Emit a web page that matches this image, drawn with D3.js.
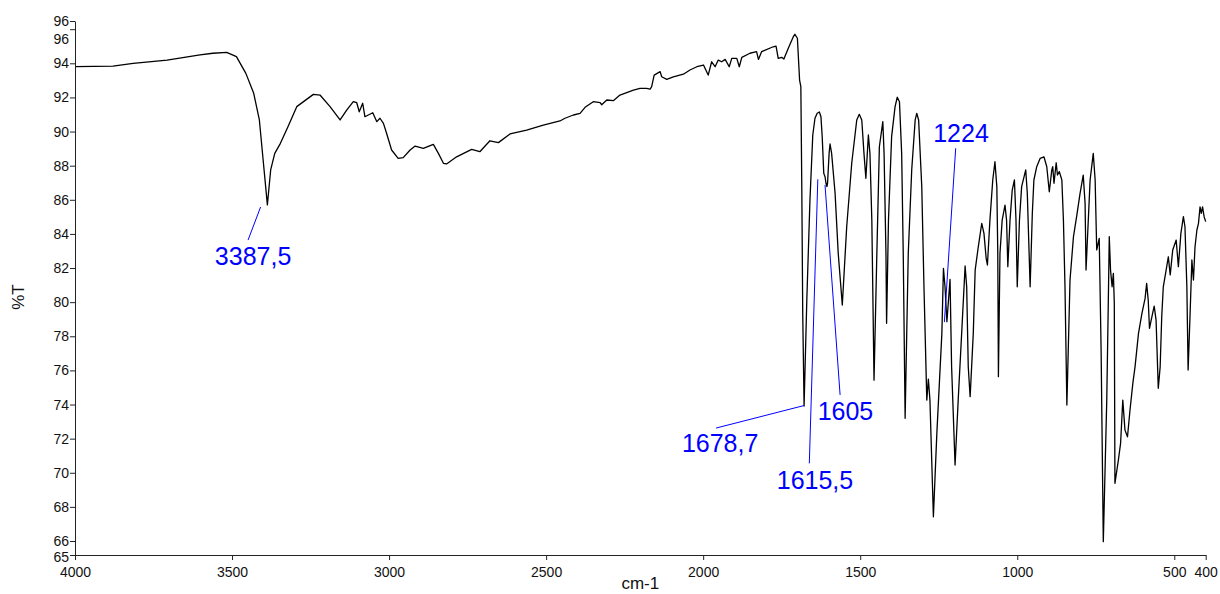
<!DOCTYPE html>
<html><head><meta charset="utf-8">
<script src="https://cdn.jsdelivr.net/npm/d3@7/dist/d3.min.js"></script>
<style>
body{margin:0;background:#fff}
svg{display:block}
text{font-family:"Liberation Sans",Arial,Helvetica,sans-serif}
</style>
</head><body>
<svg id="chart" width="1220" height="594"></svg>
<script>
// ---- data (wavenumber cm-1, %T) ----
const wavenumbers = [
4000,3879,3815,3707,3602,3561,3517,3486,3456,3431,3413,3401,3387.5,3377,3364,3346,3322,3294,3241,3220,3188,3156,3135,3114,3103,3095,3084,3077,3066,3052,3039,3029,3018,3008,2992,2971,2955,2933,2917,2891,2859,2843,2827,2817,2785,2737,2711,2679,2652,2615,2562,2509,2456,2440,2413,2392,2376,2350,2328,2323,2307,2286,2265,2222,2201,2180,2169,2164,2156,2137,2132,2116,2095,2063,2042,2020,1999,1984,1973,1962,1952,1941,1930,1917,1909,1893,1885,1877,1851,1830,1824,1814,1777,1768,1761,1750,1743,1729,1713,1708,1700,1693,1689,1686,1683,1678.7,1670,1660,1651,1644,1637,1630,1625,1621,1616,1612,1609,1606,1604,1599,1596,1591,1580,1570,1557,1543,1527,1511,1503,1495,1488,1482,1474,1469,1463,1456,1447,1439,1428,1424,1418,1416,1410,1400,1389,1382,1375,1368,1363,1357,1347,1336,1325,1320,1314,1304,1297,1288,1283,1278,1267,1256,1248,1240,1235,1230,1224,1214,1209,1198,1188,1177,1166,1161,1156,1150,1140,1134,1124,1113,1106,1099,1095,1087,1078,1071,1065,1062,1060,1055,1048,1039,1034,1030,1023,1016,1009,1004,1000,993,986,973,968,959,952,947,938,927,915,906,898,890,887,883,876,872,866,858,853,848,842,832,821,811,800,790,784,781,768,758,752,747,739,733,726,715,710,707,703,698,694,691,689,678,671,664,657,649,641,632,625,614,603,593,588,583,579,569,564,558,551,545,540,535,526,519,513,505,494,487,479,471,466,460,456,450,444,439,434,428,423,418,414,410,405,400
];
const transmittance = [
93.80,93.84,94.00,94.19,94.49,94.59,94.64,94.39,93.41,92.24,90.68,88.33,85.70,87.75,88.72,89.31,90.28,91.46,92.18,92.14,91.46,90.68,91.26,91.75,91.69,91.16,91.66,90.87,90.97,91.10,90.58,90.78,90.48,89.90,88.92,88.43,88.47,88.92,89.15,89.02,89.25,88.72,88.14,88.10,88.52,88.96,88.82,89.46,89.35,89.86,90.09,90.38,90.62,90.78,90.97,91.07,91.42,91.75,91.69,91.57,91.85,91.81,92.14,92.43,92.53,92.53,92.48,92.63,93.31,93.51,93.21,93.06,93.21,93.36,93.61,93.80,93.90,93.31,94.09,93.80,94.19,94.09,94.23,93.80,94.29,94.29,93.80,94.35,94.59,94.68,94.23,94.68,94.97,95.01,94.29,94.35,94.25,94.88,95.56,95.70,95.47,93.02,92.63,86.77,79.34,73.91,80.13,85.99,89.80,90.78,91.07,91.15,90.87,89.70,87.55,87.35,86.97,86.77,86.97,88.72,89.27,88.72,86.38,82.86,79.83,84.42,88.14,90.68,91.01,90.68,88.72,87.26,89.80,88.72,84.81,75.43,82.86,89.11,90.58,88.72,82.86,78.76,84.81,89.70,91.46,92.01,91.75,88.72,82.86,73.19,82.86,87.75,90.68,91.07,90.68,86.77,80.90,74.26,75.49,74.26,67.42,72.31,75.24,78.17,81.98,80.90,78.85,81.34,76.21,70.45,74.26,78.17,82.12,80.90,76.21,74.46,78.17,81.88,83.25,84.62,84.03,82.57,82.18,84.81,87.16,88.23,86.77,82.86,75.63,82.86,84.81,85.69,84.81,82.08,84.81,86.57,87.16,84.81,80.90,84.81,86.77,87.75,86.38,80.90,85.21,87.16,87.94,88.43,88.52,87.94,86.47,87.75,87.94,86.97,88.17,87.45,87.65,87.16,84.81,80.90,73.97,81.30,83.84,85.01,86.38,87.45,85.79,81.88,87.16,88.72,87.16,83.06,83.74,77.20,65.96,74.26,80.13,83.84,81.88,80.90,81.69,79.93,69.38,70.75,71.72,74.26,72.50,72.11,73.68,75.24,76.21,78.17,79.34,80.22,81.10,80.12,78.47,79.34,79.77,78.95,74.95,76.21,79.15,80.90,81.88,82.66,81.60,83.06,83.64,82.08,84.03,85.01,84.42,80.90,76.02,79.15,82.47,81.30,83.25,84.23,84.62,85.59,85.21,85.59,85.01,84.72
];
const xTickValues = [4000,3500,3000,2500,2000,1500,1000,500,400];
const yTickValues = [65.18,66,68,70,72,74,76,78,80,82,84,86,88,90,92,94,96,96.48];
const xDomain = [4000,400];
const yDomain = [65.18,96.48];
const xTitle = "cm-1";
const yTitle = "%T";

// peak annotations
const peakLabels = ["3387,5","1678,7","1615,5","1605","1224"];
const leaderStartWn = [3409,1959,1662,1612,1196];
const leaderStartT  = [85.58,72.62,70.55,86.87,89.02];
const leaderEndWn   = [3449,1679,1635,1564,1232];
const leaderEndT    = [83.64,73.94,87.20,74.56,78.83];
const labelWn = [3433,1946,1644,1547,1179];
const labelT  = [82.19,71.21,69.02,73.09,89.40];

// ---- drawing ----
const svg = d3.select("#chart");
const mLeft = 75, mRight = 1205.7, mTop = 21, mBottom = 555;
const x = d3.scaleLinear().domain(xDomain).range([mLeft,mRight]);
const y = d3.scaleLinear().domain(yDomain).range([mBottom,mTop]);

const n = Math.min(wavenumbers.length, transmittance.length);
const pts = d3.range(n).map(i=>[wavenumbers[i],transmittance[i]]);

svg.append("path")
  .datum(pts)
  .attr("fill","none")
  .attr("stroke","#000")
  .attr("stroke-width",1.3)
  .attr("stroke-linejoin","round")
  .attr("d", d3.line().x(d=>x(d[0])).y(d=>y(d[1])));

// axes
const xAxis = svg.append("g").attr("transform",`translate(0,${mBottom})`)
  .call(d3.axisBottom(x).tickValues(xTickValues).tickSize(5).tickSizeOuter(0).tickPadding(7).tickFormat(d3.format("d")));
const yAxis = svg.append("g").attr("transform",`translate(${mLeft},0)`)
  .call(d3.axisLeft(y).tickValues(yTickValues).tickSize(5).tickSizeOuter(0).tickPadding(1).tickFormat(d3.format(".0f")));
[xAxis,yAxis].forEach(g=>{
  g.selectAll("path,line").attr("stroke","#222").attr("stroke-width",1);
  g.selectAll("text").attr("fill","#111").style("font-size","14px").style("font-family","'Liberation Sans',Arial,sans-serif");
});
// avoid overlap of the two "96" labels and of "65" with its neighbours
yAxis.selectAll(".tick").filter(d=>d===96).select("text").attr("dy","1.0em");
yAxis.selectAll(".tick").filter(d=>d===yDomain[0]).select("text").attr("dy","0.45em");

svg.append("text").attr("x",(mLeft+mRight)/2).attr("y",589).attr("text-anchor","middle")
  .style("font-size","17px").attr("fill","#111").text(xTitle);
svg.append("text").attr("transform",`translate(24,297) rotate(-90)`).attr("text-anchor","middle")
  .style("font-size","17px").attr("fill","#111").text(yTitle);

// annotations
const ann = svg.append("g");
peakLabels.forEach((lab,i)=>{
  ann.append("line")
    .attr("x1",x(leaderStartWn[i])).attr("y1",y(leaderStartT[i]))
    .attr("x2",x(leaderEndWn[i])).attr("y2",y(leaderEndT[i]))
    .attr("stroke","#0000ff").attr("stroke-width",1);
  ann.append("text")
    .attr("x",x(labelWn[i])).attr("y",y(labelT[i]))
    .attr("text-anchor","middle")
    .attr("fill","#0000ff")
    .style("font-size","25px")
    .text(lab);
});
</script>
</body></html>
